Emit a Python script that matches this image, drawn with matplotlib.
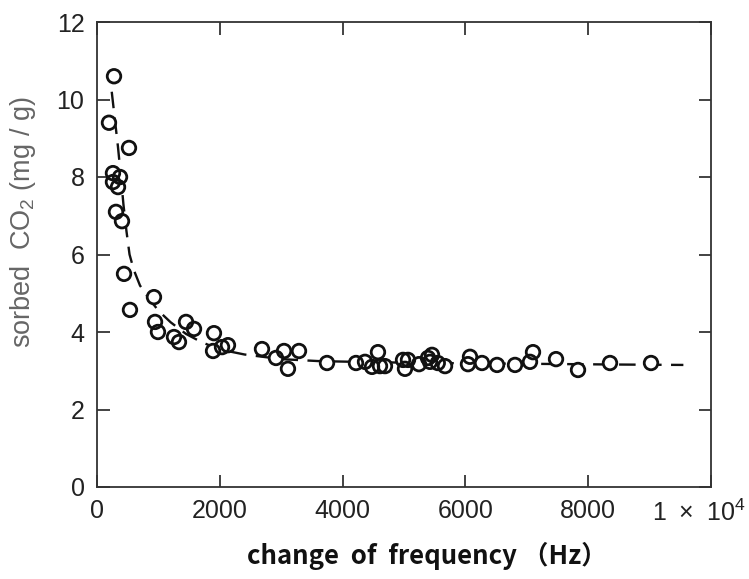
import matplotlib
matplotlib.use("Agg")
import matplotlib.pyplot as plt
from matplotlib.transforms import ScaledTranslation

# measured points: change of frequency (Hz) vs sorbed CO2 (mg/g)
freq = [277, 195, 521, 260, 375, 260, 342, 309, 407, 440, 537, 928, 945, 993,
        1450, 1580, 1254, 1335, 1905, 1890, 2036, 2133, 2687, 2915, 3046, 3110,
        3290, 3746, 4218, 4365, 4479, 4576, 4609, 4690, 4984, 5016, 5065, 5244,
        5391, 5456, 5423, 5550, 5668, 6042, 6075, 6270, 6515, 6808, 7052, 7101,
        7476, 7834, 8355, 9023]
co2 = [10.6, 9.4, 8.75, 8.1, 8.0, 7.87, 7.74, 7.1, 6.86, 5.5, 4.57, 4.9, 4.26, 4.0,
       4.26, 4.08, 3.87, 3.74, 3.97, 3.51, 3.61, 3.66, 3.56, 3.33, 3.51, 3.05,
       3.51, 3.2, 3.2, 3.23, 3.1, 3.48, 3.12, 3.12, 3.28, 3.05, 3.28, 3.17,
       3.33, 3.41, 3.23, 3.2, 3.12, 3.17, 3.36, 3.2, 3.15, 3.15, 3.23, 3.48,
       3.3, 3.02, 3.2, 3.2]

# dashed trend curve
curve_x = [240, 290, 340, 390, 430, 480, 530, 600, 700, 830, 1000, 1200, 1450,
           1700, 2000, 2400, 3000, 3600, 4500, 5500, 7000, 8500, 9550]
curve_y = [10.2, 9.5, 8.8, 8.0, 7.3, 6.6, 6.0, 5.6, 5.2, 4.9, 4.55, 4.25, 3.95,
           3.74, 3.55, 3.42, 3.3, 3.25, 3.22, 3.2, 3.18, 3.16, 3.15]

xticks = [0, 2000, 4000, 6000, 8000, 10000]
xticklabels = ["0", "2000", "4000", "6000", "8000", r"1$\ \times\ $10$^{4}$"]
yticks = [0, 2, 4, 6, 8, 10, 12]

plt.rcParams['font.family'] = ['Liberation Sans', 'DejaVu Sans']
plt.rcParams['mathtext.fontset'] = 'custom'
plt.rcParams['mathtext.rm'] = 'Liberation Sans'

fig = plt.figure(figsize=(7.49, 5.79), dpi=100)
ax = fig.add_axes([97/749, 92/579, 614/749, 465/579])

ax.plot(curve_x, curve_y, color='#111111', lw=1.7, dashes=(7, 4), zorder=1)
ax.scatter(freq, co2, s=95, facecolor='white', edgecolor='none', zorder=2)
ax.scatter(freq, co2, s=95, facecolor='none', edgecolor='#111111',
           linewidths=2.0, zorder=3)

ax.set_xlim(0, 10000)
ax.set_ylim(0, 12)
ax.set_xticks(xticks)
ax.set_xticklabels(xticklabels)
ax.set_yticks(yticks)
ax.tick_params(direction='in', length=9, width=1.2, top=True, right=True,
               labelsize=18, colors='#222222', pad=9)
for s in ax.spines.values():
    s.set_color('#333333')
    s.set_linewidth(1.3)

lab = ax.get_xticklabels()[-1]
lab.set_transform(lab.get_transform() + ScaledTranslation(-0.12, 0, fig.dpi_scale_trans))

fig.text(23/749, 1 - 222/579, r"sorbed  CO$_2$ (mg / g)", rotation=90,
         ha='center', va='center', fontsize=19.5, color='#666666')
fig.text(427/749, 1 - 556/579, "change  of  frequency （Hz）", ha='center',
         va='center', fontsize=18.5, fontweight='bold', color='#111111',
         family=['Noto Sans CJK JP', 'DejaVu Sans'])

fig.savefig("out.png", dpi=100)
